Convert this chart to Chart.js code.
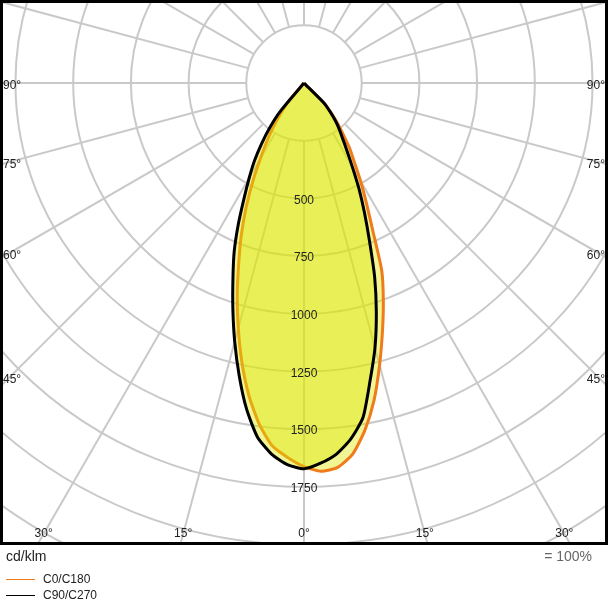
<!DOCTYPE html>
<html>
<head>
<meta charset="utf-8">
<script src="https://cdn.jsdelivr.net/npm/chart.js@4.4.0/dist/chart.umd.min.js"></script>
<style>
html, body { margin: 0; padding: 0; background: #fff; }
#wrap { width: 608px; height: 600px; position: relative; }
</style>
</head>
<body>
<div id="wrap"><canvas id="ldc" width="608" height="600"></canvas></div>
<script>
// **DATOS** (cd/klm por ángulo gamma, 0° = nadir)
const gammas = [0, 2.5, 5, 7.5, 10, 12.5, 15, 17.5, 20, 22.5, 25, 27.5, 30, 32.5, 35, 37.5, 40, 42.5, 45, 47.5, 50];
const c0   = [1662, 1684, 1672, 1621, 1525, 1405, 1265, 1130, 1005, 880, 705, 585, 490, 405, 345, 276, 222, 168, 125, 0, 0];
const c180 = [1662, 1624, 1578, 1490, 1375, 1242, 1100, 962, 826, 708, 592, 480, 378, 300, 230, 165, 110, 0, 0, 0, 0];
const c90  = [1672, 1649, 1614, 1555, 1472, 1322, 1188, 1042, 895, 742, 620, 515, 418, 345, 290, 250, 210, 165, 122, 0, 0];
const c270 = [1672, 1655, 1614, 1547, 1434, 1298, 1160, 1025, 900, 790, 672, 562, 475, 400, 320, 245, 160, 0, 0, 0, 0];

const ringValues = [250, 500, 750, 1000, 1250, 1500, 1750, 2000, 2250, 2500];
const ringLabels = [500, 750, 1000, 1250, 1500, 1750];
const sideAngles = [90, 75, 60, 45];
const bottomAngles = [30, 15, 0];
const seriesNames = ['C0/C180', 'C90/C270'];

const ORANGE = '#ef7b1b';
const FILL = 'rgba(221, 232, 0, 0.42)';
const GRID = '#c9c9c9';
const FONT = '"Liberation Sans", Arial, sans-serif';
const RAD = Math.PI / 180;

/**
 * Pasa (gamma, intensidad) a coordenadas del gráfico.
 */
function toXY(gamma, value, side) {
	return { x: side * value * Math.sin(gamma * RAD), y: -value * Math.cos(gamma * RAD) };
}

/**
 * Une la mitad izquierda y la derecha en una sola curva cerrada.
 */
function buildCurve(left, right) {
	const pts = [];
	for (let i = gammas.length - 1; i >= 0; i--) pts.push(toXY(gammas[i], left[i], -1));
	for (let i = 1; i < gammas.length; i++) pts.push(toXY(gammas[i], right[i], 1));
	return pts;
}

// **REJILLA POLAR**
const polarGrid = {
	id: 'polarGrid',
	beforeDatasetsDraw(chart) {
		const { ctx, chartArea, scales: { x, y } } = chart;
		const cx = x.getPixelForValue(0), cy = y.getPixelForValue(0);
		const k = x.getPixelForValue(1000) - cx;
		ctx.save();
		ctx.beginPath();
		ctx.rect(chartArea.left, chartArea.top, chartArea.right - chartArea.left, chartArea.bottom - chartArea.top);
		ctx.clip();
		ctx.strokeStyle = GRID;
		ctx.lineWidth = 2;
		ringValues.forEach(v => {
			ctx.beginPath();
			ctx.arc(cx, cy, v * k / 1000, 0, Math.PI * 2);
			ctx.stroke();
		});
		for (let a = 0; a < 360; a += 15) {
			const p1 = toXY(a, 250, 1), p2 = toXY(a, 4000, 1);
			ctx.beginPath();
			ctx.moveTo(x.getPixelForValue(p1.x), y.getPixelForValue(p1.y));
			ctx.lineTo(x.getPixelForValue(p2.x), y.getPixelForValue(p2.y));
			ctx.stroke();
		}
		ctx.restore();
	},
	afterDatasetsDraw(chart) {
		const { ctx, chartArea, scales: { x, y } } = chart;
		const cx = x.getPixelForValue(0), cy = y.getPixelForValue(0);
		ctx.save();
		ctx.fillStyle = '#222';
		ctx.textBaseline = 'middle';
		ctx.font = '12px ' + FONT;
		ctx.textAlign = 'center';
		ringLabels.forEach(v => ctx.fillText(String(v), cx, y.getPixelForValue(-v) + 2));

		const half = cx - chartArea.left - 10;
		sideAngles.forEach(a => {
			const py = cy + half / Math.tan(a * RAD) + 3;
			ctx.textAlign = 'left';
			ctx.fillText(a + '°', chartArea.left + 3, py);
			ctx.textAlign = 'right';
			ctx.fillText(a + '°', chartArea.right - 3, py);
		});
		const by = chartArea.bottom - 11;
		ctx.textAlign = 'center';
		bottomAngles.forEach(a => {
			const dx = (by - cy) * Math.tan(a * RAD);
			ctx.fillText(a + '°', cx - dx, by);
			if (a !== 0) ctx.fillText(a + '°', cx + dx, by);
		});
		ctx.restore();
	},
	afterDraw(chart) {
		const { ctx, chartArea } = chart;
		ctx.save();
		ctx.strokeStyle = '#000';
		ctx.lineWidth = 3;
		ctx.strokeRect(chartArea.left + 1.5, chartArea.top + 1.5,
			chartArea.right - chartArea.left - 3, chartArea.bottom - chartArea.top - 3);

		ctx.fillStyle = '#222';
		ctx.textBaseline = 'middle';
		ctx.font = '14px ' + FONT;
		ctx.textAlign = 'left';
		ctx.fillText('cd/klm', 6, 557);
		ctx.textAlign = 'right';
		ctx.fillStyle = '#666';
		ctx.fillText('= 100%', 592, 557);

		ctx.font = '12px ' + FONT;
		ctx.textAlign = 'left';
		ctx.fillStyle = '#222';
		[ORANGE, '#000'].forEach((c, i) => {
			const ly = 579 + i * 16;
			ctx.strokeStyle = c;
			ctx.lineWidth = 1;
			ctx.beginPath();
			ctx.moveTo(6, ly + 0.5);
			ctx.lineTo(35, ly + 0.5);
			ctx.stroke();
			ctx.fillText(seriesNames[i], 43, ly + 1);
		});
		ctx.restore();
	}
};

function init() {
	new Chart(document.getElementById('ldc'), {
		type: 'scatter',
		data: {
			datasets: [
				{
					label: seriesNames[1], data: buildCurve(c270, c90), showLine: true,
					borderColor: '#000', borderWidth: 3, backgroundColor: FILL, fill: 'shape',
					pointRadius: 0, tension: 0.2, order: 1
				},
				{
					label: seriesNames[0], data: buildCurve(c180, c0), showLine: true,
					borderColor: ORANGE, borderWidth: 3, backgroundColor: FILL, fill: 'shape',
					pointRadius: 0, tension: 0.2, order: 2
				}
			]
		},
		options: {
			responsive: false,
			animation: false,
			layout: { padding: { left: 0, right: 0, top: 0, bottom: 55 } },
			scales: {
				x: { type: 'linear', min: -1317, max: 1317, display: false },
				y: { type: 'linear', min: -2002, max: 360, display: false }
			},
			plugins: { legend: { display: false }, tooltip: { enabled: false } }
		},
		plugins: [polarGrid]
	});
}

document.addEventListener('DOMContentLoaded', init);
</script>
</body>
</html>
